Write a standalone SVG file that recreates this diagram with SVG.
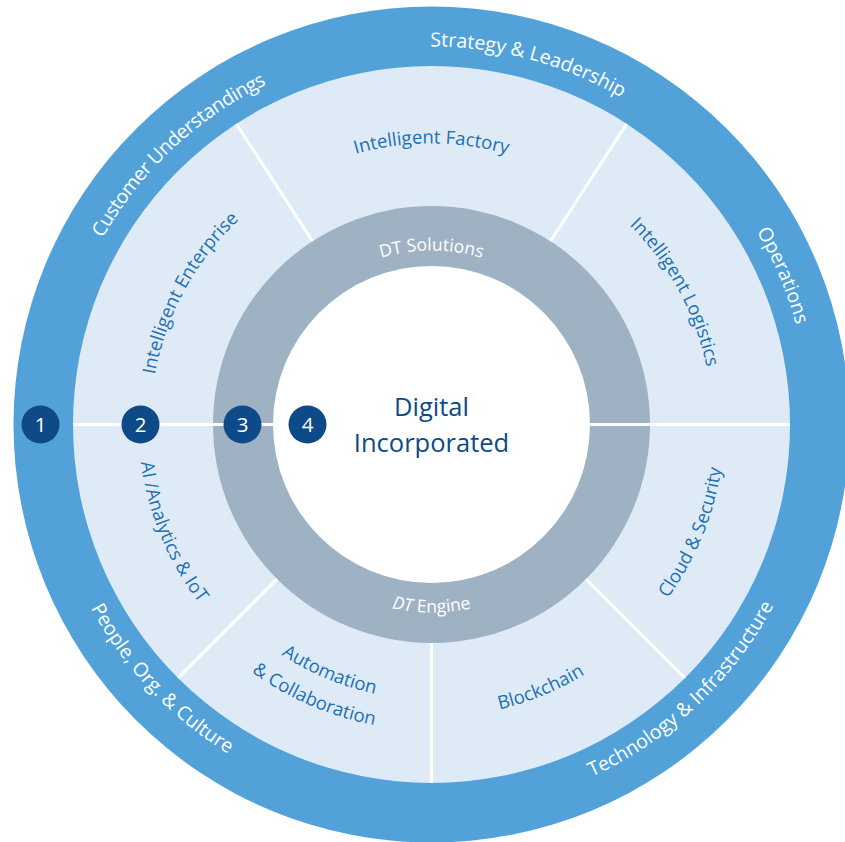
<svg xmlns="http://www.w3.org/2000/svg" width="845" height="842" viewBox="0 0 845 842">
<defs>
<style>
.outer{font-family:"Open Sans","Noto Sans",sans-serif;font-size:19.5px;fill:#ffffff}
.light{font-family:"Open Sans","Noto Sans",sans-serif;font-size:18.5px;fill:#2170b3}
.gray{font-family:"Open Sans","Noto Sans",sans-serif;font-size:17.5px;fill:#ffffff}
.center{font-family:"Open Sans","Noto Sans",sans-serif;font-size:25.5px;fill:#0d4a87}
.num{font-family:"Open Sans","Noto Sans",sans-serif;font-size:20.5px;fill:#ffffff}
.spoke{stroke:#ffffff;stroke-width:3;fill:none}
.badge{fill:#0d4a87}
</style>
<path id="t378" d="M 431.5,802.5 A 378 378 0 1 1 431.5,46.5 A 378 378 0 1 1 431.5,802.5"/>
<path id="t281" d="M 431.5,705.5 A 281 281 0 1 1 431.5,143.5 A 281 281 0 1 1 431.5,705.5"/>
<path id="t174" d="M 431.5,598.5 A 174 174 0 1 1 431.5,250.5 A 174 174 0 1 1 431.5,598.5"/>
<path id="b387" d="M 431.5,37.5 A 387 387 0 1 0 431.5,811.5 A 387 387 0 1 0 431.5,37.5"/>
<path id="b293" d="M 431.5,131.5 A 293 293 0 1 0 431.5,717.5 A 293 293 0 1 0 431.5,131.5"/>
<path id="b275" d="M 431.5,149.5 A 275 275 0 1 0 431.5,699.5 A 275 275 0 1 0 431.5,149.5"/>
<path id="b306" d="M 431.5,118.5 A 306 306 0 1 0 431.5,730.5 A 306 306 0 1 0 431.5,118.5"/>
<path id="b188" d="M 431.5,236.5 A 188 188 0 1 0 431.5,612.5 A 188 188 0 1 0 431.5,236.5"/>
</defs>
<rect width="845" height="842" fill="#ffffff"/>
<g id="ring-outer">
<circle cx="431.5" cy="424.5" r="418" fill="#52a2d9"/>
</g>
<g id="ring-light">
<circle cx="431.5" cy="424.5" r="358.5" fill="#deebf6"/>
</g>
<g id="ring-gray">
<circle cx="431.5" cy="424.5" r="218.5" fill="#9eb2c3"/>
</g>
<g id="core">
<circle cx="431.5" cy="424.5" r="158.5" fill="#ffffff"/>
</g>
<g id="connectors">
<line class="spoke" x1="312.5" y1="241.2" x2="236.3" y2="123.8"/>
<line class="spoke" x1="550.5" y1="241.2" x2="626.7" y2="123.8"/>
<line class="spoke" x1="277" y1="579" x2="178" y2="678"/>
<line class="spoke" x1="586" y1="579" x2="685" y2="678"/>
<line class="spoke" x1="431.5" y1="643" x2="431.5" y2="783"/>
<line class="spoke" x1="73" y1="424.5" x2="273" y2="424.5"/>
<line class="spoke" x1="590" y1="424.5" x2="790" y2="424.5"/>
</g>
<g id="outer-labels">
<g id="strategy"><text class="outer"><textPath href="#t378" startOffset="54.17%" text-anchor="middle">Strategy &amp; Leadership</textPath></text></g>
<g id="customer"><text class="outer" letter-spacing="-0.5"><textPath href="#t378" startOffset="38.0%" text-anchor="middle">Customer Understandings</textPath></text></g>
<g id="operations"><text class="outer"><textPath href="#t378" startOffset="68.61%" text-anchor="middle">Operations</textPath></text></g>
<g id="technology"><text class="outer"><textPath href="#b387" startOffset="62.03%" text-anchor="middle">Technology &amp; Infrastructure</textPath></text></g>
<g id="people"><text class="outer"><textPath href="#b387" startOffset="37.03%" text-anchor="middle">People, Org. &amp; Culture</textPath></text></g>
</g>
<g id="solution-labels">
<g id="factory"><text class="light"><textPath href="#t281" startOffset="50%" text-anchor="middle">Intelligent Factory</textPath></text></g>
<g id="enterprise"><text class="light"><textPath href="#t281" startOffset="32.92%" text-anchor="middle">Intelligent Enterprise</textPath></text></g>
<g id="logistics"><text class="light"><textPath href="#t281" startOffset="67.08%" text-anchor="middle">Intelligent Logistics</textPath></text></g>
<g id="ai"><text class="light"><textPath href="#b293" startOffset="31.25%" text-anchor="middle">AI /Analytics &amp; IoT</textPath></text></g>
<g id="automation"><text class="light"><textPath href="#b275" startOffset="43.75%" text-anchor="middle">Automation</textPath></text><text class="light"><textPath href="#b306" startOffset="43.5%" text-anchor="middle">&amp; Collaboration</textPath></text></g>
<g id="blockchain"><text class="light"><textPath href="#b293" startOffset="56.25%" text-anchor="middle">Blockchain</textPath></text></g>
<g id="cloud"><text class="light"><textPath href="#b293" startOffset="68.75%" text-anchor="middle">Cloud &amp; Security</textPath></text></g>
</g>
<g id="gray-labels">
<g id="dt-solutions"><text class="gray"><textPath href="#t174" startOffset="50%" text-anchor="middle">DT Solutions</textPath></text></g>
<g id="dt-engine"><text class="gray"><textPath href="#b188" startOffset="50%" text-anchor="middle"><tspan font-style="italic">DT</tspan> Engine</textPath></text></g>
</g>
<g id="center-label">
<text class="center" x="431.5" y="416" text-anchor="middle">Digital</text>
<text class="center" x="431.5" y="452" text-anchor="middle">Incorporated</text>
</g>
<g id="badge-1"><circle class="badge" cx="40.5" cy="424.5" r="19"/><text class="num" x="40.5" y="431.8" text-anchor="middle">1</text></g>
<g id="badge-2"><circle class="badge" cx="140.5" cy="424.5" r="19"/><text class="num" x="140.5" y="431.8" text-anchor="middle">2</text></g>
<g id="badge-3"><circle class="badge" cx="242.5" cy="424.5" r="19"/><text class="num" x="242.5" y="431.8" text-anchor="middle">3</text></g>
<g id="badge-4"><circle class="badge" cx="307.5" cy="424.5" r="19"/><text class="num" x="307.5" y="431.8" text-anchor="middle">4</text></g>
</svg>
